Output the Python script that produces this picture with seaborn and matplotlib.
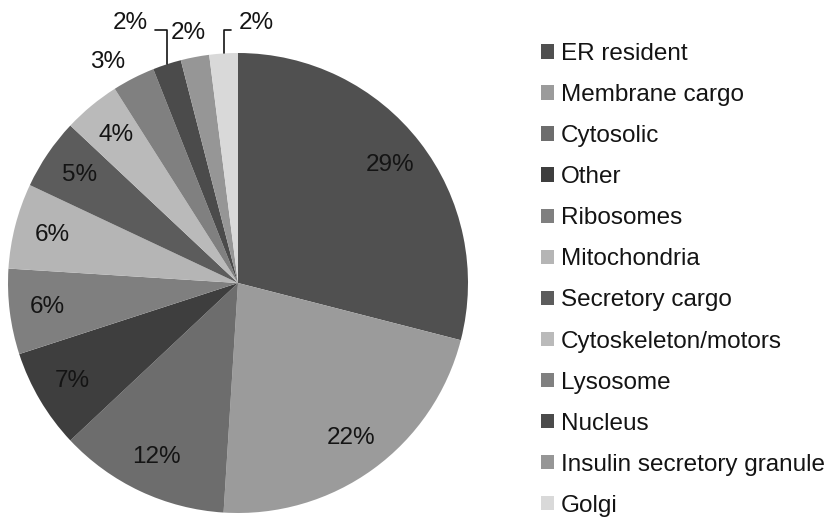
import matplotlib
matplotlib.use("Agg")
import matplotlib.pyplot as plt
import seaborn as sns
import numpy as np
from matplotlib.patches import Patch

categories = ["ER resident", "Membrane cargo", "Cytosolic", "Other", "Ribosomes",
              "Mitochondria", "Secretory cargo", "Cytoskeleton/motors", "Lysosome",
              "Nucleus", "Insulin secretory granule", "Golgi"]
values = [29, 22, 12, 7, 6, 6, 5, 4, 3, 2, 2, 2]
pct_labels = ["29%", "22%", "12%", "7%", "6%", "6%", "5%", "4%", "3%", "2%", "2%", "2%"]
colors = ["#505050", "#9b9b9b", "#6d6d6d", "#3e3e3e", "#7f7f7f", "#b5b5b5",
          "#5c5c5c", "#bababa", "#808080", "#4b4b4b", "#969696", "#d9d9d9"]

sns.set_theme(style="white")
plt.rcParams["font.family"] = ["Liberation Sans", "DejaVu Sans"]

fig = plt.figure(figsize=(8.26, 5.19), dpi=100)
ax = fig.add_axes([8 / 826, 6 / 519, 460 / 826, 460 / 519])

wedges, _ = ax.pie(values, colors=colors, startangle=90, counterclock=False,
                   radius=1.0, wedgeprops=dict(linewidth=0))
ax.set_xlim(-1, 1)
ax.set_ylim(-1, 1)
ax.set_aspect("equal")

fs = 17.5
tc = "#141414"
n_inside = 8
for i, w in enumerate(wedges):
    mid = np.deg2rad((w.theta1 + w.theta2) / 2)
    c, s = np.cos(mid), np.sin(mid)
    if i < n_inside:
        ax.text(0.835 * c, 0.835 * s, pct_labels[i], ha="center", va="center",
                fontsize=fs, color=tc)

def mid_pt(i, r=1.0):
    w = wedges[i]
    m = np.deg2rad((w.theta1 + w.theta2) / 2)
    return r * np.cos(m), r * np.sin(m)

# Lysosome 3%
ax.text(-0.565, 0.96, pct_labels[8], ha="center", va="center", fontsize=fs,
        color=tc, clip_on=False)
# Insulin 2%
ax.text(-0.215, 1.085, pct_labels[10], ha="center", va="center", fontsize=fs,
        color=tc, clip_on=False)
# Nucleus 2% with leader
ax.annotate(pct_labels[9], xy=mid_pt(9), xytext=(-0.47, 1.13), ha="center", va="center",
            fontsize=fs, color=tc, annotation_clip=False,
            arrowprops=dict(arrowstyle="-", color=tc, lw=1.2,
                            connectionstyle="angle,angleA=0,angleB=90,rad=0",
                            relpos=(1.0, 0.2), shrinkA=3, shrinkB=0))
# Golgi 2% with leader
ax.annotate(pct_labels[11], xy=mid_pt(11), xytext=(0.08, 1.13), ha="center", va="center",
            fontsize=fs, color=tc, annotation_clip=False,
            arrowprops=dict(arrowstyle="-", color=tc, lw=1.2,
                            connectionstyle="angle,angleA=0,angleB=90,rad=0",
                            relpos=(0.0, 0.2), shrinkA=3, shrinkB=0))

handles = [Patch(facecolor=col, edgecolor="none") for col in colors]
leg = fig.legend(handles, categories, loc="upper left",
                 bbox_to_anchor=(541 / 826, 1 - 43 / 519), frameon=False,
                 fontsize=fs, handlelength=0.53, handleheight=0.53,
                 handletextpad=0.3, labelspacing=0.785, borderpad=0,
                 borderaxespad=0)
for t in leg.get_texts():
    t.set_color(tc)

fig.savefig("out.png", dpi=100)
